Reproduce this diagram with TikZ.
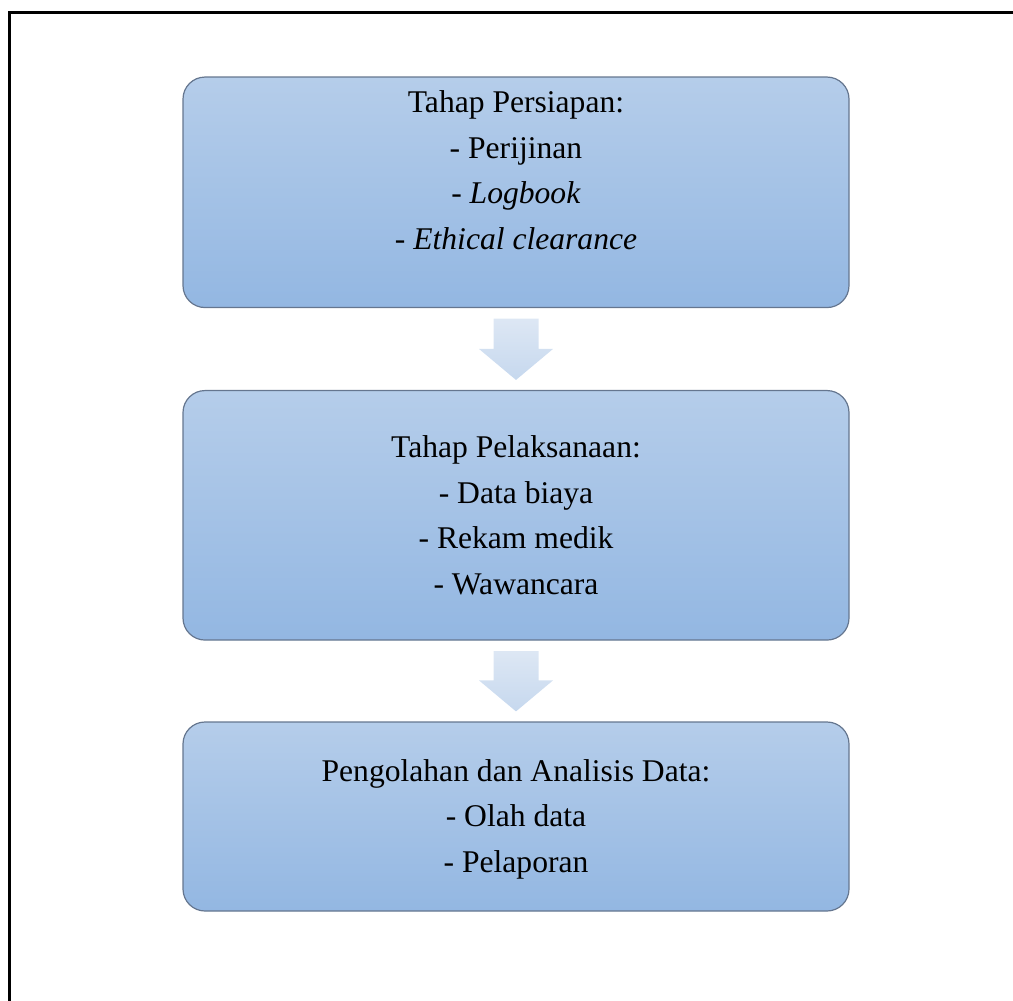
\documentclass[tikz,border=0pt]{standalone}
\usepackage{fontspec}
\setmainfont{Liberation Serif}
\usepackage{tikz}
\usetikzlibrary{calc}
\definecolor{boxtop}{HTML}{B5CDEA}
\definecolor{boxbottom}{HTML}{93B7E2}
\definecolor{boxline}{HTML}{65768F}
\definecolor{arrowtop}{HTML}{DDE7F4}
\definecolor{arrowbottom}{HTML}{C6D8EE}
\newcommand{\stagearrow}[2]{%
  \shade[top color=arrowtop, bottom color=arrowbottom]
    ($(#1.south)+(-22.5,-10.5)$) -- ($(#1.south)+(22.5,-10.5)$)
    -- ($(#2.north)+(22.5,41)$) -- ($(#2.north)+(37,41)$)
    -- ($(#2.north)+(0,10)$) -- ($(#2.north)+(-37,41)$)
    -- ($(#2.north)+(-22.5,41)$) -- cycle;}

\begin{document}
\begin{tikzpicture}[x=1pt, y=1pt,
    stage/.style={draw=boxline, line width=1.2pt, rounded corners=22pt,
      top color=boxtop, bottom color=boxbottom, minimum width=666pt, inner sep=0pt},
    stagetext/.style={align=center, inner sep=0pt, font=\fontsize{31.6}{45.5}\selectfont}]
      \useasboundingbox (0, 0) rectangle (1013, -1001);
      \draw[line width=2.2pt] (9.5, -1001) -- (9.5, -12.5) -- (1013, -12.5);
      \node[stage, minimum height=230.5pt] (persiapan) at (516, -192.3) {};
      \node[stage, minimum height=249.5pt] (pelaksanaan) at (516, -515.3) {};
      \node[stage, minimum height=189pt] (analisis) at (516, -816.5) {};
      \node[stagetext] (persiapantext) at (516, -170) {Tahap Persiapan:\\- Perijinan\\- \textit{Logbook}\\- \textit{Ethical clearance}};
      \node[stagetext] (pelaksanaantext) at (516, -515.5) {Tahap Pelaksanaan:\\- Data biaya\\- Rekam medik\\- Wawancara};
      \node[stagetext] (analisistext) at (516, -819) {Pengolahan dan Analisis Data:\\- Olah data\\- Pelaporan};
      \stagearrow{persiapan}{pelaksanaan}
      \stagearrow{pelaksanaan}{analisis}
    \end{tikzpicture}
\end{document}
